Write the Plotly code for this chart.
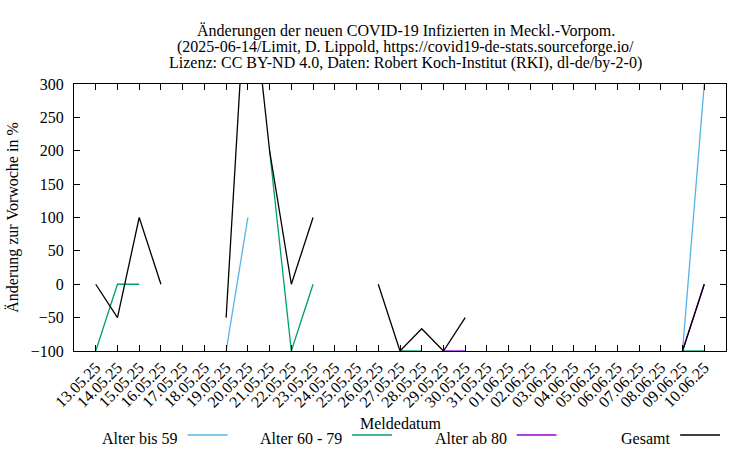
#!/usr/bin/env python3
# -*- coding: utf-8 -*-

import plotly.graph_objects as go

# ================== Daten ==================
dates = ['13.05.25', '14.05.25', '15.05.25', '16.05.25', '17.05.25', '18.05.25',
         '19.05.25', '20.05.25', '21.05.25', '22.05.25', '23.05.25', '24.05.25',
         '25.05.25', '26.05.25', '27.05.25', '28.05.25', '29.05.25', '30.05.25',
         '31.05.25', '01.06.25', '02.06.25', '03.06.25', '04.06.25', '05.06.25',
         '06.06.25', '07.06.25', '08.06.25', '09.06.25', '10.06.25']

N = None
bis_59 = [N, N, N, N, N, N, -100, 100, N, N, N, N, N, N,
          N, N, N, N, N, N, N, N, N, N, N, N, N, -100, 300]
von_60_79 = [-100, 0, 0, N, N, N, N, N, 200, -100, 0, N, N, N,
             -100, -100, N, N, N, N, N, N, N, N, N, N, N, -100, -100]
ab_80 = [N, N, N, N, N, N, N, N, N, N, N, N, N, N,
         N, N, -100, -100, N, N, N, N, N, N, N, N, N, -100, 0]
gesamt = [0, -50, 100, 0, N, N, -50, 500, 200, 0, 100, N, N, 0,
          -100, -66.7, -100, -50, N, N, N, N, N, N, N, N, N, -100, 0]

series = [
    ('Alter bis 59', bis_59, '#56b4e9'),
    ('Alter 60 - 79', von_60_79, '#009e73'),
    ('Alter ab 80', ab_80, '#9400d3'),
    ('Gesamt', gesamt, '#000000'),
]

y_ticks = [-100, -50, 0, 50, 100, 150, 200, 250, 300]

title_lines = [
    'Änderungen der neuen COVID-19 Infizierten in Meckl.-Vorpom.',
    '(2025-06-14/Limit, D. Lippold, https://covid19-de-stats.sourceforge.io/',
    'Lizenz: CC BY-ND 4.0, Daten: Robert Koch-Institut (RKI), dl-de/by-2-0)',
]
# ===========================================

FONT = 'Liberation Serif, Times New Roman, serif'
FS = 16
W, H = 750, 450
L, R, T, B = 72, 24, 84, 99
PW, PH = W - L - R, H - T - B


def px_x(x):
    return (x - L) / PW


def px_y(y):
    return (H - B - y) / PH


def label(text, x, y, anchor='center'):
    fig.add_annotation(x=px_x(x), y=px_y(y), xref='paper', yref='paper',
                       text=text, showarrow=False, xanchor=anchor, yanchor='middle',
                       borderpad=0,
                       font=dict(family=FONT, size=FS, color='black'))


fig = go.Figure()
for name, vals, color in series:
    fig.add_trace(go.Scatter(x=dates, y=vals, mode='lines', name=name,
                             line=dict(color=color, width=1.3),
                             connectgaps=False, showlegend=False))

# Titel (drei Zeilen, enger Zeilenabstand wie im Original)
for line, ty in zip(title_lines, [31, 47, 63]):
    label(line, 405, ty)

# Legende wie bei gnuplot: Text rechtsbündig, dann Linienmuster
legend_right = [177, 342, 507, 671]
for (name, vals, color), xr in zip(series, legend_right):
    label(name, xr, 438, anchor='right')
    fig.add_shape(type='line', xref='paper', yref='paper',
                  x0=px_x(xr + 9), x1=px_x(xr + 49), y0=px_y(435), y1=px_y(435),
                  line=dict(color=color, width=1.3))

label('Meldedatum', 399, 423)

fig.update_layout(
    width=W, height=H,
    margin=dict(l=L, r=R, t=T, b=B),
    paper_bgcolor='white', plot_bgcolor='white',
    font=dict(family=FONT, size=FS, color='black'),
)

fig.update_xaxes(type='category', range=[-1, 29], tickangle=-45,
                 showgrid=False, zeroline=False,
                 showline=True, linecolor='black', linewidth=1, mirror='allticks',
                 ticks='inside', ticklen=6, tickcolor='black',
                 tickfont=dict(family=FONT, size=FS))
fig.update_yaxes(range=[-100, 300], tickvals=y_ticks,
                 showgrid=False, zeroline=False,
                 showline=True, linecolor='black', linewidth=1, mirror='allticks',
                 ticks='inside', ticklen=6, tickcolor='black',
                 ticklabelstandoff=6,
                 tickfont=dict(family=FONT, size=FS),
                 title=dict(text='Änderung zur Vorwoche in %', standoff=8,
                            font=dict(family=FONT, size=FS)))

# Seitenrand des Browsers entfernen, damit die Grafik bei (0,0) beginnt
fig.write_html("out.html", config={'displayModeBar': False},
               post_script="document.body.style.margin='0';")
